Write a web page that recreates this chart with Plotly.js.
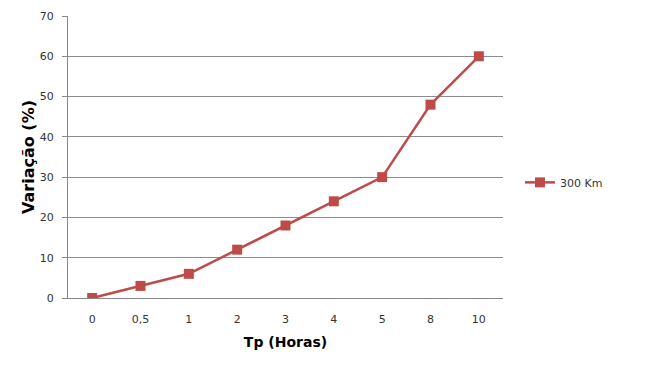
<!DOCTYPE html>
<html><head><meta charset="utf-8">
<script src="https://cdn.plot.ly/plotly-3.0.1.min.js"></script>
<style>html,body{margin:0;padding:0;background:#fff}#c{width:655px;height:378px}</style>
</head><body><div id="c"></div>
<script>
const categories = ["0", "0,5", "1", "2", "3", "4", "5", "8", "10"];
const values300 = [0, 3, 6, 12, 18, 24, 30, 48, 60];
const seriesName = "300 Km";
const yTicks = [0, 10, 20, 30, 40, 50, 60, 70];

const red = "#BE4B48";
const trace = {
  x: categories, y: values300, name: seriesName, type: "scatter", mode: "lines+markers",
  line: {color: red, width: 2.5},
  marker: {symbol: "square", size: 10, color: red}
};
const layout = {
  width: 655, height: 378,
  margin: {l: 68, r: 152, t: 16, b: 80},
  paper_bgcolor: "#fff", plot_bgcolor: "#fff",
  font: {family: "DejaVu Sans, sans-serif", size: 11, color: "#333"},
  showlegend: true,
  legend: {x: 1.039, y: 0.41, xanchor: "left", yanchor: "middle", font: {size: 11, color: "#333"}, bgcolor: "rgba(0,0,0,0)"},
  xaxis: {
    type: "category", range: [-0.5, 8.5], showgrid: false, showline: true, linecolor: "#888", linewidth: 1,
    ticks: "", tickfont: {size: 11, color: "#333"}, ticklabelstandoff: 11,
    title: {text: "Tp (Horas)", font: {size: 14, color: "#000", family: "DejaVu Sans, sans-serif", weight: "bold"}, standoff: 11},
    zeroline: false
  },
  yaxis: {
    range: [0, 70], tickvals: yTicks, showgrid: true, gridcolor: "#8c8c8c", gridwidth: 1,
    showline: true, linecolor: "#888", linewidth: 1, ticks: "outside", ticklen: 5, tickcolor: "#888",
    tickfont: {size: 11, color: "#333"}, zeroline: false, ticklabelstandoff: 6,
    title: {text: "Variação (%)", font: {size: 16, color: "#000", family: "DejaVu Sans, sans-serif", weight: "bold"}, standoff: 1}
  }
};
Plotly.newPlot("c", [trace], layout, {displayModeBar: false, staticPlot: true});
</script></body></html>
